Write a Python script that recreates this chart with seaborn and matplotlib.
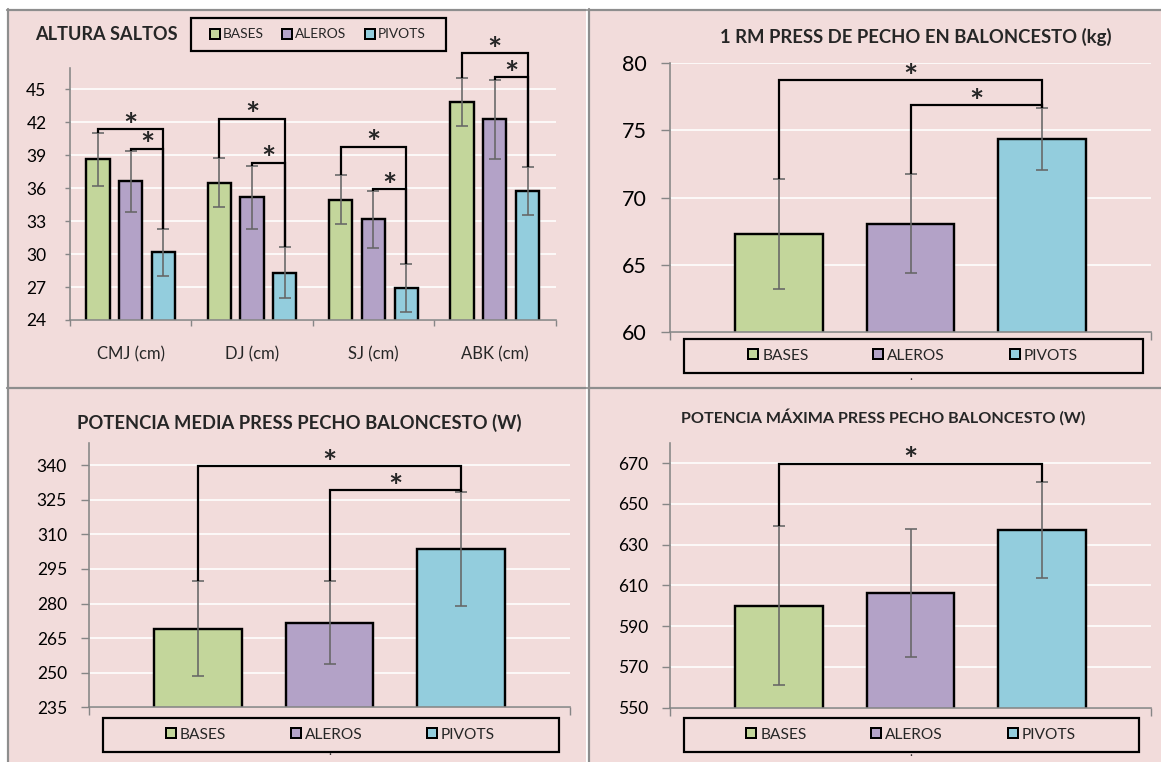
import numpy as np
import pandas as pd
import matplotlib
matplotlib.use("Agg")
import matplotlib.pyplot as plt
import seaborn as sns
from matplotlib.patches import Rectangle
from matplotlib.lines import Line2D

# ---------------- data ----------------
groups = ["BASES", "ALEROS", "PIVOTS"]
group_colors = ["#C3D69B", "#B3A2C7", "#93CDDD"]

jump_tests = ["CMJ (cm)", "DJ (cm)", "SJ (cm)", "ABK (cm)"]
jump_bases = [38.6, 36.5, 34.95, 43.85]
jump_aleros = [36.6, 35.15, 33.15, 42.25]
jump_pivots = [30.15, 28.3, 26.9, 35.75]
jump_bases_sd = [2.45, 2.25, 2.25, 2.2]
jump_aleros_sd = [2.8, 2.85, 2.6, 3.6]
jump_pivots_sd = [2.15, 2.3, 2.2, 2.2]
jump_ticks = [24, 27, 30, 33, 36, 39, 42, 45]

rm_mean = [67.25, 68.05, 74.35]
rm_sd = [4.1, 3.7, 2.3]
rm_ticks = [60, 65, 70, 75, 80]

pmed_mean = [269.1, 271.7, 303.5]
pmed_sd = [20.6, 18.0, 24.7]
pmed_ticks = [235, 250, 265, 280, 295, 310, 325, 340]

pmax_mean = [600.1, 606.5, 637.2]
pmax_sd = [39.0, 31.4, 23.7]
pmax_ticks = [550, 570, 590, 610, 630, 650, 670]

# significant pairs (group index a, group index b)
sig_pairs = [(0, 2), (1, 2)]

# ---------------- style ----------------
sns.set_theme(style="white")
plt.rcParams["font.family"] = ["Lato", "DejaVu Sans"]

W, H = 1161, 762
PINK = "#F2DCDB"
FRAME = "#8E8E8E"
AXIS = "#868686"
ERR = "#666666"

fig = plt.figure(figsize=(W / 100, H / 100), dpi=100, facecolor="white")


def fx(px):
    return px / W


def fy(py):
    return 1 - py / H


def px2pt(px):
    return px * 0.72


# panel backgrounds and frame lines
for x0, x1 in [(7, 586), (588, W)]:
    fig.patches.append(Rectangle((fx(x0), 0), fx(x1) - fx(x0), fy(9), transform=fig.transFigure,
                                 facecolor=PINK, edgecolor="none", zorder=-10))
frame_lines = [
    ((8, 8), (9, H)),
    ((589, 589), (9, H)),
    ((7, 586), (10, 10)),
    ((588, W), (10, 10)),
    ((7, 586), (388, 388)),
    ((588, W), (388, 388)),
]
for xs, ys in frame_lines:
    fig.lines.append(Line2D([fx(x) for x in xs], [fy(y) for y in ys], transform=fig.transFigure,
                            color=FRAME, lw=px2pt(2.2), zorder=-5))


def make_axes(x0, x1, ytop, ybot):
    return fig.add_axes([fx(x0), fy(ybot), fx(x1) - fx(x0), fy(ytop) - fy(ybot)], facecolor="none")


def style_axes(ax, ylim, yticks, ysize, ypad, ytick_len):
    ax.set_ylim(*ylim)
    ax.set_yticks(yticks)
    ax.yaxis.grid(True, color="white", lw=px2pt(1.6))
    ax.xaxis.grid(False)
    ax.set_axisbelow(True)
    for s in ["top", "right"]:
        ax.spines[s].set_visible(False)
    for s in ["left", "bottom"]:
        ax.spines[s].set_color(AXIS)
        ax.spines[s].set_linewidth(px2pt(1.6))
    ax.tick_params(axis="y", which="both", direction="out", left=True, length=px2pt(ytick_len),
                   width=px2pt(1.4), color=AXIS, labelsize=ysize, pad=px2pt(ypad), labelcolor="black")
    ax.set_xlabel("")
    ax.set_ylabel("")


def add_errorbars(ax, bars, sds):
    tops = []
    for bar, sd in zip(bars, sds):
        xc = bar.get_x() + bar.get_width() / 2
        yv = bar.get_height()
        ax.errorbar(xc, yv, yerr=sd, fmt="none", ecolor=ERR, elinewidth=px2pt(1.6),
                    capsize=px2pt(6), capthick=px2pt(1.6), zorder=5, clip_on=False)
        tops.append((xc, yv + sd))
    return tops


def bracket(ax, left, right, level, star_size=24):
    (x1, y1), (x2, y2) = left, right
    ax.plot([x1, x1, x2, x2], [y1, level, level, y2], color="black", lw=px2pt(2.2),
            clip_on=False, zorder=6, solid_joinstyle="miter", solid_capstyle="butt")
    ax.annotate("*", xy=((x1 + x2) / 2, level), xytext=(0, -5.5), textcoords="offset points",
                ha="center", va="baseline", fontsize=star_size, fontweight="bold",
                annotation_clip=False, zorder=7)


def legend_box(x0, x1, y0, y1, fontsize, colspacing):
    fig.patches.append(Rectangle((fx(x0), fy(y1)), fx(x1) - fx(x0), fy(y0) - fy(y1),
                                 transform=fig.transFigure, facecolor="none", edgecolor="black",
                                 lw=px2pt(2.2), zorder=8))
    handles = [Line2D([], [], marker="s", ls="none", markersize=px2pt(9.5), markerfacecolor=c,
                      markeredgecolor="black", markeredgewidth=px2pt(2)) for c in group_colors]
    fig.legend(handles, groups, ncol=3, frameon=False, loc="center",
               bbox_to_anchor=(fx((x0 + x1) / 2), fy((y0 + y1) / 2)), bbox_transform=fig.transFigure,
               handlelength=0.55, handletextpad=0.3, columnspacing=colspacing, fontsize=fontsize,
               borderpad=0, borderaxespad=0)


# ---------------- panel 1: jump heights ----------------
ax1 = make_axes(70, 555.5, 67.7, 320)
jump_df = pd.DataFrame({
    "test": jump_tests * 3,
    "group": np.repeat(groups, len(jump_tests)),
    "value": jump_bases + jump_aleros + jump_pivots,
})
sns.barplot(data=jump_df, x="test", y="value", hue="group", order=jump_tests, hue_order=groups,
            palette=group_colors, saturation=1, width=0.81, gap=0.29, errorbar=None,
            edgecolor="black", linewidth=px2pt(2.4), legend=False, ax=ax1)
style_axes(ax1, (24, 46.95), jump_ticks, 12.5, 18, 5.5)
ax1.set_xlim(-0.5, 3.5)
ax1.set_xticks(range(len(jump_tests)))
ax1.set_xticklabels(jump_tests)
ax1.set_xticks([-0.5, 0.5, 1.5, 2.5, 3.5], minor=True)
ax1.tick_params(axis="x", which="major", length=0, labelsize=12, pad=px2pt(26))
ax1.tick_params(axis="x", which="minor", bottom=True, direction="out", length=px2pt(5.5),
                width=px2pt(1.4), color=AXIS)

jump_sds = [jump_bases_sd, jump_aleros_sd, jump_pivots_sd]
tops = [add_errorbars(ax1, cont, sds) for cont, sds in zip(ax1.containers, jump_sds)]
jump_levels = [(41.36, 39.6), (42.3, 38.3), (39.75, 35.9), (48.25, 46.07)]
for i, levels in enumerate(jump_levels):
    for (a, b), lev in zip(sig_pairs, levels):
        bracket(ax1, tops[a][i], tops[b][i], lev)

fig.text(fx(35), fy(34), "ALTURA SALTOS", ha="left", va="center", fontsize=13.1, fontweight="bold")
legend_box(191, 446, 18, 51, 9.9, 1.45)


# ---------------- single-measure panels ----------------
def group_panel(ax, means, sds, ylim, yticks, levels, ysize, ytick_len, ypad):
    df = pd.DataFrame({"group": groups, "value": means})
    sns.barplot(data=df, x="group", y="value", hue="group", order=groups, hue_order=groups,
                palette=group_colors, saturation=1, width=0.667, errorbar=None,
                edgecolor="black", linewidth=px2pt(2.4), legend=False, ax=ax)
    style_axes(ax, ylim, yticks, ysize, ypad, ytick_len)
    ax.set_xlim(-0.826, 2.826)
    ax.set_xticks([1])
    ax.set_xticklabels(["."])
    ax.set_xticks([-0.826, 2.826], minor=True)
    ax.tick_params(axis="x", which="major", length=0, labelsize=9, pad=px2pt(38))
    ax.tick_params(axis="x", which="minor", bottom=True, direction="out", length=px2pt(8),
                   width=px2pt(1.4), color=AXIS)
    bars = sorted(ax.patches, key=lambda p: p.get_x())
    tp = add_errorbars(ax, bars, sds)
    for (a, b), lev in zip(sig_pairs, levels):
        bracket(ax, tp[a], tp[b], lev)


ax2 = make_axes(670, 1151, 63.3, 331.7)
group_panel(ax2, rm_mean, rm_sd, (60, 80), rm_ticks, [78.76, 76.87], 15.5, 9, 14)
fig.text(fx(916), fy(37), "1 RM PRESS DE PECHO EN BALONCESTO (kg)", ha="center", va="center",
         fontsize=13.3, fontweight="bold")
legend_box(684, 1143, 339, 372.7, 11.2, 4.2)

ax3 = make_axes(89, 570, 443.3, 707.3)
group_panel(ax3, pmed_mean, pmed_sd, (235, 349.5), pmed_ticks, [339.6, 329.2], 12.5, 8, 14)
fig.text(fx(299), fy(423), "POTENCIA MEDIA PRESS PECHO BALONCESTO (W)", ha="center", va="center",
         fontsize=13.2, fontweight="bold")
legend_box(102.6, 559, 717.7, 751.7, 11.2, 4.2)

ax4 = make_axes(670, 1151, 442.7, 707.7)
group_panel(ax4, pmax_mean, pmax_sd, (550, 680), pmax_ticks, [669.7], 12.5, 8, 14)
fig.text(fx(883), fy(416.7), "POTENCIA MÁXIMA PRESS PECHO BALONCESTO (W)", ha="center", va="center",
         fontsize=11.6, fontweight="bold")
legend_box(683.7, 1139, 717.7, 751.7, 11.2, 4.2)

fig.savefig("out.png", dpi=100, facecolor="white")
